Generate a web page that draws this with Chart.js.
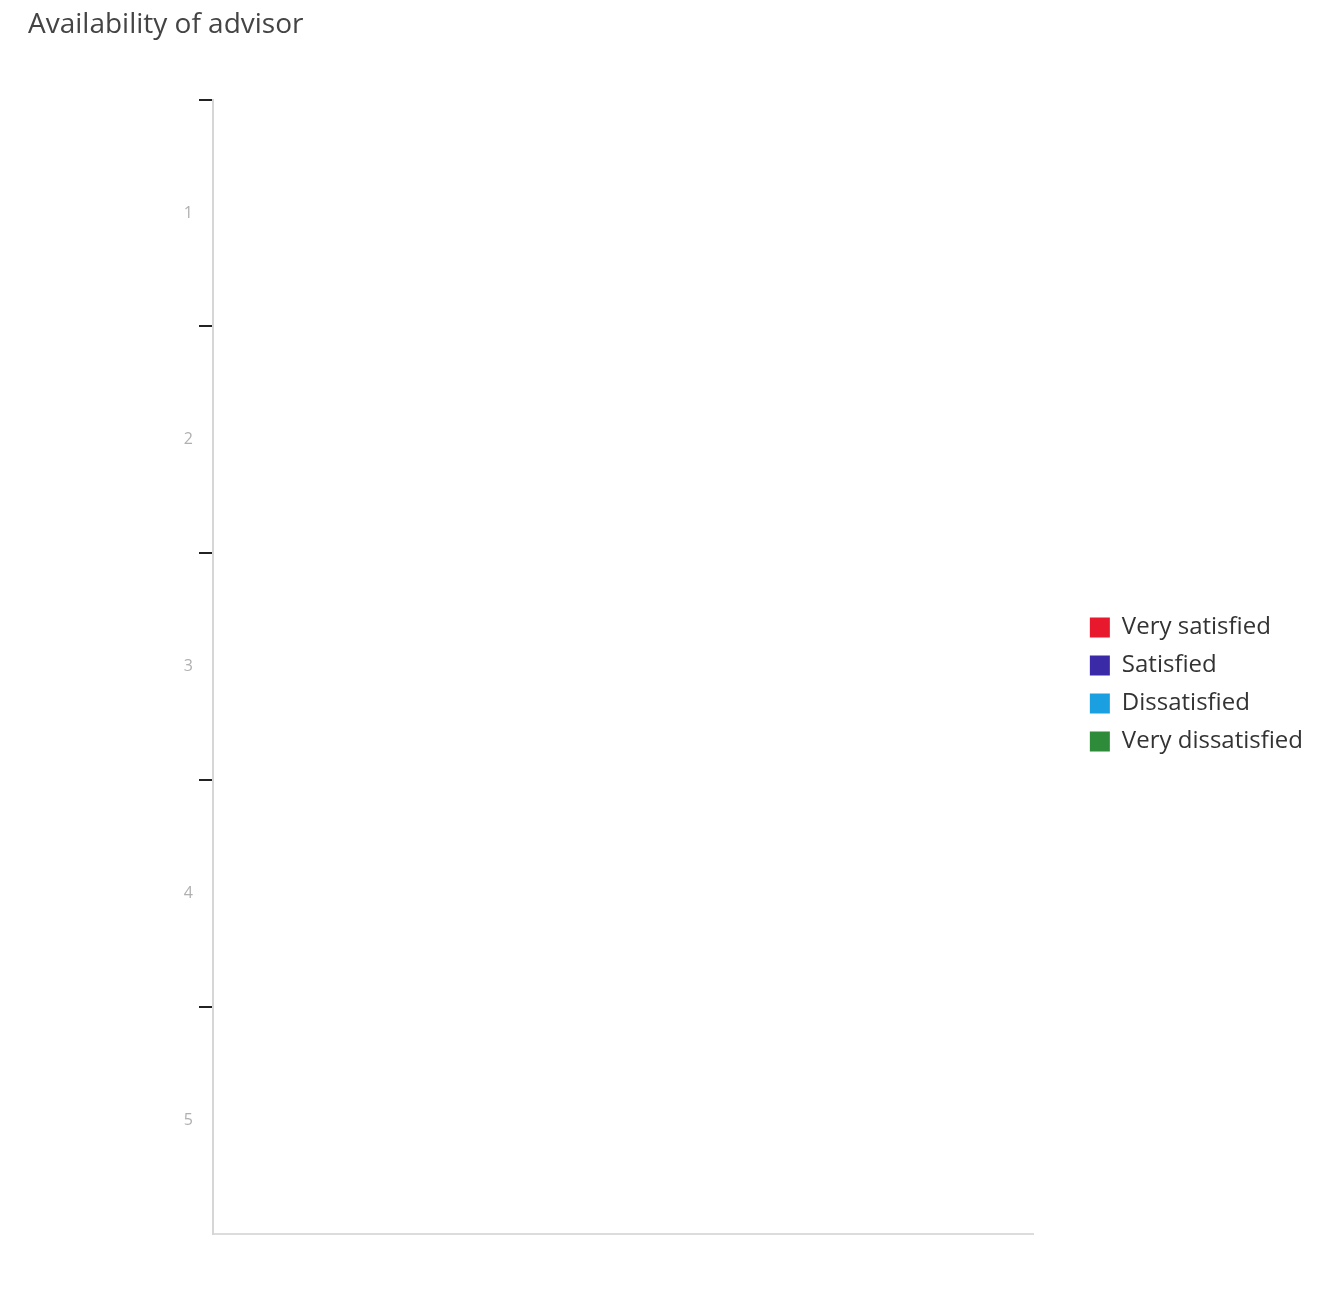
<!DOCTYPE html>
<html>
<head>
<meta charset="utf-8">
<title>Availability of advisor</title>
<script src="https://cdn.jsdelivr.net/npm/chart.js@4/dist/chart.umd.min.js"></script>
<style>
  html, body { margin: 0; padding: 0; background: #fff; }
  #wrap { width: 1325px; height: 1294px; position: relative; }
</style>
</head>
<body>
<div id="wrap"><canvas id="chart"></canvas></div>
<script>
// ----- DATA -----
const categories = ['1', '2', '3', '4', '5'];
const seriesNames = ['Very satisfied', 'Satisfied', 'Dissatisfied', 'Very dissatisfied'];
const seriesColors = ['#e8192c', '#3a2aa8', '#1aa0e0', '#2e8b3a'];
// no responses recorded: every bar is empty
const verySatisfied = [0, 0, 0, 0, 0];
const satisfied = [0, 0, 0, 0, 0];
const dissatisfied = [0, 0, 0, 0, 0];
const veryDissatisfied = [0, 0, 0, 0, 0];
const seriesValues = [verySatisfied, satisfied, dissatisfied, veryDissatisfied];

const FONT = '"Open Sans", "Noto Sans", sans-serif';
const LEGEND_GAP = 42; // empty space between plot area and legend

// widen the legend box on its left side so the plot ends earlier
const legendGap = {
  id: 'legendGap',
  afterInit(chart) {
    const lg = chart.legend;
    if(!lg) return;
    const fit = lg.fit;
    lg.fit = function() {
      fit.call(this);
      this.width += LEGEND_GAP;
    };
  },
  afterLayout(chart) {
    if(chart.legend) chart.legend.left += LEGEND_GAP;
  }
};

// ----- CHART -----
const ctx = document.getElementById('chart').getContext('2d');
new Chart(ctx, {
  type: 'bar',
  data: {
    labels: categories,
    datasets: seriesNames.map((name, i) => ({
      label: name,
      data: seriesValues[i],
      backgroundColor: seriesColors[i],
      borderWidth: 0
    }))
  },
  options: {
    indexAxis: 'y',
    responsive: true,
    maintainAspectRatio: false,
    animation: false,
    layout: { padding: { left: 28, right: 12, top: 0, bottom: 0 } },
    plugins: {
      title: {
        display: true,
        text: 'Availability of advisor',
        align: 'start',
        color: '#444',
        font: { family: FONT, size: 28, weight: 'normal' },
        padding: { top: 8, bottom: 58 }
      },
      legend: {
        position: 'right',
        align: 'center',
        // blank title only pushes the items down a little
        title: { display: true, text: ' ', font: { size: 10 }, padding: { top: 32, bottom: 31 } },
        labels: {
          boxWidth: 20,
          boxHeight: 20,
          padding: 14,
          color: '#333',
          font: { family: FONT, size: 24 }
        }
      },
      tooltip: { enabled: false }
    },
    scales: {
      x: {
        stacked: true,
        beginAtZero: true,
        grid: { display: false, drawTicks: false },
        ticks: { display: false },
        border: { display: true, color: '#dcdcdc', width: 2 },
        afterFit: s => { s.height = 60; }
      },
      y: {
        stacked: true,
        grid: {
          offset: true,
          drawOnChartArea: false,
          drawTicks: true,
          tickLength: 14,
          lineWidth: 2,
          color: c => c.type === 'tick' ? '#222' : 'rgba(0,0,0,0)'
        },
        ticks: {
          color: '#b0b0b0',
          padding: 6,
          font: { family: FONT, size: 16 }
        },
        border: { display: true, color: '#d6d6d6', width: 2 },
        afterFit: s => { s.width = 185; }
      }
    }
  },
  plugins: [legendGap]
});
</script>
</body>
</html>
